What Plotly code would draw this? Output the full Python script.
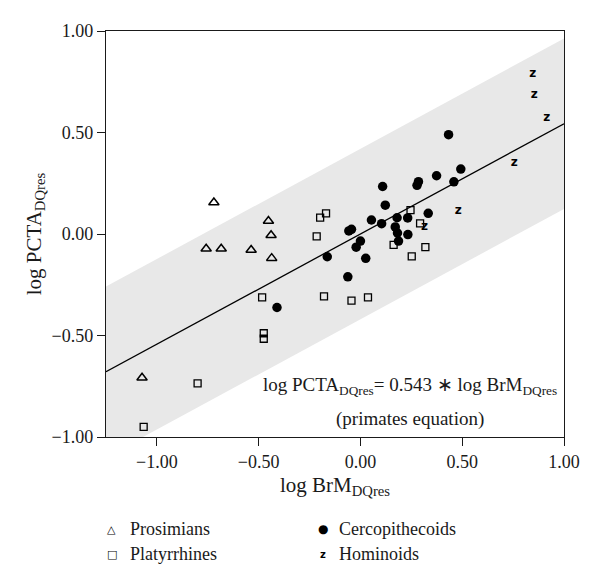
import plotly.graph_objects as go

# ---- data ----
pros_x = [-0.72, -0.452, -0.439, -0.758, -0.684, -0.537, -0.436, -1.073]
pros_y = [0.155, 0.064, -0.006, -0.073, -0.073, -0.079, -0.119, -0.708]

platy_x = [-0.198, -0.169, -0.215, -0.483, -0.179, -0.044, 0.037, -0.475, -0.475,
           0.246, 0.293, 0.163, 0.319, 0.252, -0.80, -1.065]
platy_y = [0.081, 0.102, -0.012, -0.312, -0.307, -0.328, -0.312, -0.489, -0.516,
           0.118, 0.052, -0.054, -0.065, -0.110, -0.736, -0.950]

cerco_x = [0.433, 0.493, 0.459, 0.374, 0.285, 0.278, 0.109, 0.122, 0.333, 0.054,
           0.104, 0.180, 0.232, 0.171, 0.182, 0.233, 0.187, -0.057, -0.044, 0.000,
           -0.021, 0.026, -0.163, -0.062, -0.410]
cerco_y = [0.489, 0.320, 0.257, 0.287, 0.258, 0.240, 0.234, 0.142, 0.102, 0.069,
           0.051, 0.080, 0.079, 0.035, 0.005, -0.003, -0.035, 0.015, 0.023, -0.035,
           -0.065, -0.120, -0.112, -0.211, -0.362]

homin_x = [0.846, 0.854, 0.915, 0.756, 0.481, 0.315]
homin_y = [0.790, 0.683, 0.571, 0.350, 0.111, 0.035]

SLOPE = 0.543          # primates equation
BAND_HALF = 0.42       # half-width of shaded band
X_RANGE = [-1.25, 1.0]
Y_RANGE = [-1.0, 1.0]
X_TICKS = [-1.0, -0.5, 0.0, 0.5, 1.0]
Y_TICKS = [-1.0, -0.5, 0.0, 0.5, 1.0]

SERIF = "Liberation Serif"
SANS = "DejaVu Sans"
INK = "#1a1a1a"

line_x = X_RANGE
line_y = [SLOPE * v for v in line_x]
band_lo = [v - BAND_HALF for v in line_y]
band_hi = [v + BAND_HALF for v in line_y]

fig = go.Figure()
fig.add_trace(go.Scatter(x=line_x, y=band_lo, mode="lines", line=dict(width=0),
                         showlegend=False, hoverinfo="skip"))
fig.add_trace(go.Scatter(x=line_x, y=band_hi, mode="lines", line=dict(width=0),
                         fill="tonexty", fillcolor="#e8e8e8",
                         showlegend=False, hoverinfo="skip"))
fig.add_trace(go.Scatter(x=line_x, y=line_y, mode="lines",
                         line=dict(color="black", width=1.3),
                         showlegend=False, hoverinfo="skip"))

fig.add_trace(go.Scatter(x=pros_x, y=pros_y, mode="markers", name="Prosimians",
                         marker=dict(symbol="triangle-up-open", size=9,
                                     color="black", line=dict(width=1.5, color="black")),
                         showlegend=False))
fig.add_trace(go.Scatter(x=platy_x, y=platy_y, mode="markers", name="Platyrrhines",
                         marker=dict(symbol="square-open", size=7,
                                     color="black", line=dict(width=1.3, color="black")),
                         showlegend=False))
fig.add_trace(go.Scatter(x=cerco_x, y=cerco_y, mode="markers", name="Cercopithecoids",
                         marker=dict(symbol="circle", size=9.5, color="black"),
                         showlegend=False))
fig.add_trace(go.Scatter(x=homin_x, y=homin_y, mode="text", name="Hominoids",
                         text=["z"] * len(homin_x), textposition="middle center",
                         textfont=dict(family=SANS, size=12, color="black", weight="bold"),
                         showlegend=False))

axis_common = dict(showline=True, linecolor=INK, linewidth=1.3, mirror=True,
                   ticks="outside", ticklen=8, tickwidth=1.2, tickcolor=INK,
                   showgrid=False, zeroline=False, tickformat=".2f",
                   tickfont=dict(family=SERIF, size=18, color=INK))

fig.update_layout(
    width=592, height=579,
    margin=dict(l=98, r=36, t=23, b=150),
    plot_bgcolor="white", paper_bgcolor="white",
    xaxis=dict(range=X_RANGE, tickvals=X_TICKS,
               title=dict(text="log BrM<sub>DQres</sub>", standoff=6,
                          font=dict(family=SERIF, size=21, color=INK)),
               **axis_common),
    yaxis=dict(range=Y_RANGE, tickvals=Y_TICKS,
               title=dict(text="log PCTA<sub>DQres</sub>", standoff=4,
                          font=dict(family=SERIF, size=21, color=INK)),
               **axis_common),
)

# equation text
EQ_X = 0.245
fig.add_annotation(x=EQ_X, y=-0.75, xref="x", yref="y",
                   text="log PCTA<sub>DQres</sub>= 0.543 ∗ log BrM<sub>DQres</sub>",
                   showarrow=False, xanchor="center",
                   font=dict(family=SERIF, size=19, color=INK))
fig.add_annotation(x=EQ_X, y=-0.912, xref="x", yref="y",
                   text="(primates equation)", showarrow=False, xanchor="center",
                   font=dict(family=SERIF, size=19, color=INK))

# legend (symbol + label)
legend_items = [
    ("△", "Prosimians", 0.013, 0.048, -0.227, 11, "normal"),
    ("□", "Platyrrhines", 0.013, 0.048, -0.289, 11, "normal"),
    ("●", "Cercopithecoids", 0.474, 0.504, -0.227, 12, "normal"),
    ("z", "Hominoids", 0.474, 0.504, -0.289, 10, "bold"),
]
for sym, lab, xs, xt, yy, ss, wt in legend_items:
    fig.add_annotation(x=xs, y=yy, xref="paper", yref="paper", text=sym,
                       showarrow=False, xanchor="center", yanchor="middle",
                       font=dict(family=SANS, size=ss, color="black", weight=wt))
    fig.add_annotation(x=xt, y=yy, xref="paper", yref="paper", text=lab,
                       showarrow=False, xanchor="left", yanchor="middle",
                       font=dict(family=SERIF, size=18, color=INK))

fig.write_html("out.html")
